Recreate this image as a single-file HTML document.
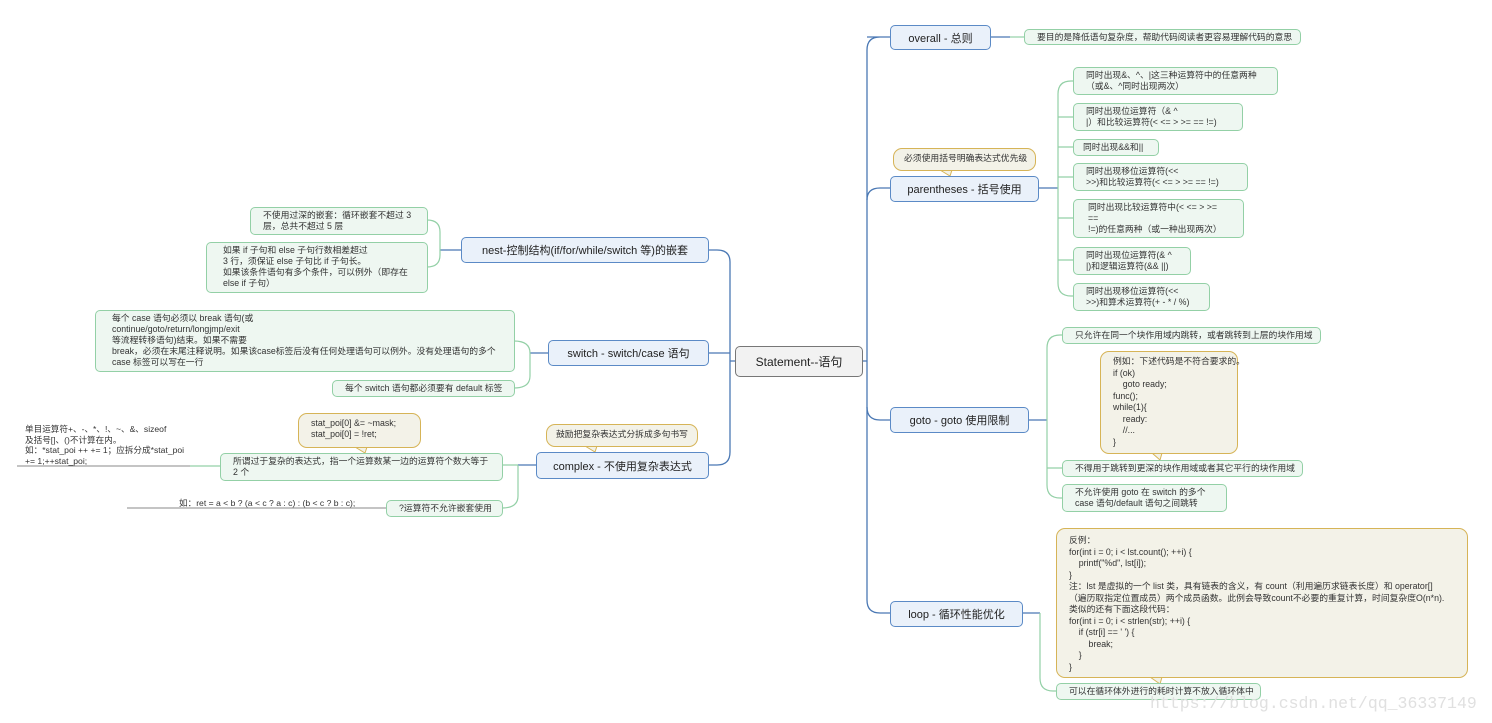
<!DOCTYPE html>
<html><head><meta charset="utf-8">
<style>
body{margin:0;width:1492px;height:723px;background:#fff;position:relative;overflow:hidden;font-family:"Liberation Sans","Noto Sans CJK SC",sans-serif;}
.b{position:absolute;box-sizing:border-box;}
.m{background:#eaf1fa;border:1.5px solid #5b8ac6;border-radius:5px;font-size:11px;color:#222;display:flex;align-items:center;justify-content:center;white-space:nowrap;}
.l{background:#eef7f1;border:1.2px solid #93d0a6;border-radius:5px;font-size:8.8px;line-height:11px;color:#333;padding:2px 0 0 12px;white-space:nowrap;}
.c{background:#f3f2e8;border:1.2px solid #d6b457;border-radius:9px;font-size:8.8px;line-height:11px;color:#333;padding:4px 0 0 12px;white-space:pre;}
.t{position:absolute;font-size:8.6px;line-height:10.5px;color:#333;white-space:nowrap;}
</style></head><body>
<svg class="b" style="left:0;top:0" width="1492" height="723">
<g fill="none" stroke="#4a78b4" stroke-width="1.3">
<path d="M862 361H867M867 50V600Q867 613 880 613H890M867 37H890M867 50Q867 37 880 37"/>
<path d="M867 200Q867 188 880 188H890M867 407Q867 420 880 420H890"/>
<path d="M735 361H730M730 262V452Q730 465 717 465H708M730 262Q730 250 717 250H708M730 353H708"/>
<path d="M990 37H1010M1038 188H1058M1028 420H1047M1022 613H1040"/>
<path d="M461 250H440M548 353H530M536 465H518"/>
</g>
<g fill="none" stroke="#93d0a6" stroke-width="1.2">
<path d="M1010 37H1024"/>
<path d="M1058 94Q1058 81 1071 81H1073M1058 94V283Q1058 296 1071 296H1073M1058 117H1073M1058 147H1073M1058 177H1073M1058 218H1073M1058 260H1073"/>
<path d="M1047 348Q1047 335 1060 335H1062M1047 348V485Q1047 498 1060 498H1062M1047 468H1062"/>
<path d="M1040 613V678Q1040 691 1053 691H1056"/>
<path d="M440 250V232Q440 220 427 220M440 250V255Q440 267 427 267"/>
<path d="M530 353V353Q530 341 514 341M530 353V376Q530 388 514 388"/>
<path d="M518 465V465H502M518 465V496Q518 508 502 508"/>
<path d="M220 466H190"/>
</g>
<g stroke="#888" stroke-width="1"><path d="M17 466H190M127 508H386"/></g>
<path d="M1150 677L1160 684L1162 677Z" fill="#f3f2e8" stroke="#d6b457"/>
<path d="M1152 453L1160 460L1162 453Z" fill="#f3f2e8" stroke="#d6b457"/>
<path d="M355 447L365 453L367 447Z" fill="#f3f2e8" stroke="#d6b457"/>
<path d="M940 170L950 176L952 170Z" fill="#f3f2e8" stroke="#d6b457"/>
<path d="M585 446L595 452L597 446Z" fill="#f3f2e8" stroke="#d6b457"/>
</svg>

<div class="b m" style="left:735px;top:346px;width:128px;height:31px;background:#f2f2f2;border-color:#777;font-size:12px">Statement--语句</div>

<div class="b m" style="left:890px;top:25px;width:101px;height:25px">overall - 总则</div>
<div class="b l" style="left:1024px;top:29px;width:277px;height:16px">要目的是降低语句复杂度，帮助代码阅读者更容易理解代码的意思</div>

<div class="b c" style="left:893px;top:148px;width:143px;height:23px;padding-left:10px">必须使用括号明确表达式优先级</div>
<div class="b m" style="left:890px;top:176px;width:149px;height:26px">parentheses - 括号使用</div>
<div class="b l" style="left:1073px;top:67px;width:205px;height:28px">同时出现&amp;、^、|这三种运算符中的任意两种<br>（或&amp;、^同时出现两次）</div>
<div class="b l" style="left:1073px;top:103px;width:170px;height:28px">同时出现位运算符（&amp; ^<br>|）和比较运算符(&lt; &lt;= &gt; &gt;= == !=)</div>
<div class="b l" style="left:1073px;top:139px;width:86px;height:17px;padding-left:9px">同时出现&amp;&amp;和||</div>
<div class="b l" style="left:1073px;top:163px;width:175px;height:28px">同时出现移位运算符(&lt;&lt;<br>&gt;&gt;)和比较运算符(&lt; &lt;= &gt; &gt;= == !=)</div>
<div class="b l" style="left:1073px;top:199px;width:171px;height:39px;padding-left:14px">同时出现比较运算符中(&lt; &lt;= &gt; &gt;=<br>==<br>!=)的任意两种（或一种出现两次）</div>
<div class="b l" style="left:1073px;top:247px;width:118px;height:28px">同时出现位运算符(&amp; ^<br>|)和逻辑运算符(&amp;&amp; ||)</div>
<div class="b l" style="left:1073px;top:283px;width:137px;height:28px">同时出现移位运算符(&lt;&lt;<br>&gt;&gt;)和算术运算符(+ - * / %)</div>

<div class="b m" style="left:890px;top:407px;width:139px;height:26px">goto - goto 使用限制</div>
<div class="b l" style="left:1062px;top:327px;width:259px;height:17px">只允许在同一个块作用域内跳转，或者跳转到上层的块作用域</div>
<div class="b c" style="left:1100px;top:351px;width:138px;height:103px;line-height:11.5px">例如：下述代码是不符合要求的。
if (ok)
    goto ready;
func();
while(1){
    ready:
    //...
}</div>
<div class="b l" style="left:1062px;top:460px;width:241px;height:17px">不得用于跳转到更深的块作用域或者其它平行的块作用域</div>
<div class="b l" style="left:1062px;top:484px;width:165px;height:28px">不允许使用 goto 在 switch 的多个<br>case 语句/default 语句之间跳转</div>

<div class="b m" style="left:890px;top:601px;width:133px;height:26px">loop - 循环性能优化</div>
<div class="b c" style="left:1056px;top:528px;width:412px;height:150px;line-height:11.5px;padding-top:6px">反例：
for(int i = 0; i &lt; lst.count(); ++i) {
    printf("%d", lst[i]);
}
注：lst 是虚拟的一个 list 类，具有链表的含义，有 count（利用遍历求链表长度）和 operator[]
（遍历取指定位置成员）两个成员函数。此例会导致count不必要的重复计算，时间复杂度O(n*n).
类似的还有下面这段代码：
for(int i = 0; i &lt; strlen(str); ++i) {
    if (str[i] == ' ') {
        break;
    }
}</div>
<div class="b l" style="left:1056px;top:683px;width:205px;height:17px">可以在循环体外进行的耗时计算不放入循环体中</div>

<div class="b m" style="left:461px;top:237px;width:248px;height:26px">nest-控制结构(if/for/while/switch 等)的嵌套</div>
<div class="b l" style="left:250px;top:207px;width:178px;height:28px">不使用过深的嵌套：循环嵌套不超过 3<br>层，总共不超过 5 层</div>
<div class="b l" style="left:206px;top:242px;width:222px;height:51px;padding-left:16px">如果 if 子句和 else 子句行数相差超过<br>3 行，须保证 else 子句比 if 子句长。<br>如果该条件语句有多个条件，可以例外（即存在<br>else if 子句）</div>

<div class="b m" style="left:548px;top:340px;width:161px;height:26px">switch - switch/case 语句</div>
<div class="b l" style="left:95px;top:310px;width:420px;height:62px;padding-left:16px">每个 case 语句必须以 break 语句(或<br>continue/goto/return/longjmp/exit<br>等流程转移语句)结束。如果不需要<br>break，必须在末尾注释说明。如果该case标签后没有任何处理语句可以例外。没有处理语句的多个<br>case 标签可以写在一行</div>
<div class="b l" style="left:332px;top:380px;width:183px;height:17px">每个 switch 语句都必须要有 default 标签</div>

<div class="b c" style="left:546px;top:424px;width:152px;height:23px;padding-left:9px">鼓励把复杂表达式分拆成多句书写</div>
<div class="b m" style="left:536px;top:452px;width:173px;height:27px">complex - 不使用复杂表达式</div>
<div class="b c" style="left:298px;top:413px;width:123px;height:35px">stat_poi[0] &amp;= ~mask;
stat_poi[0] = !ret;</div>
<div class="b l" style="left:220px;top:453px;width:283px;height:28px">所谓过于复杂的表达式，指一个运算数某一边的运算符个数大等于<br>2 个</div>
<div class="b l" style="left:386px;top:500px;width:117px;height:17px">?运算符不允许嵌套使用</div>
<div class="t" style="left:25px;top:424px">单目运算符+、-、*、!、~、&amp;、sizeof<br>及括号[]、()不计算在内。<br>如：*stat_poi ++ += 1；应拆分成*stat_poi<br>+= 1;++stat_poi;</div>
<div class="t" style="left:179px;top:498px">如：ret = a &lt; b ? (a &lt; c ? a : c) : (b &lt; c ? b : c);</div>

<div class="t" style="left:1150px;top:694px;font-family:'Liberation Mono',monospace;font-size:16.5px;line-height:20px;color:#e0e0e0">https://blog.csdn.net/qq_36337149</div>
</body></html>
